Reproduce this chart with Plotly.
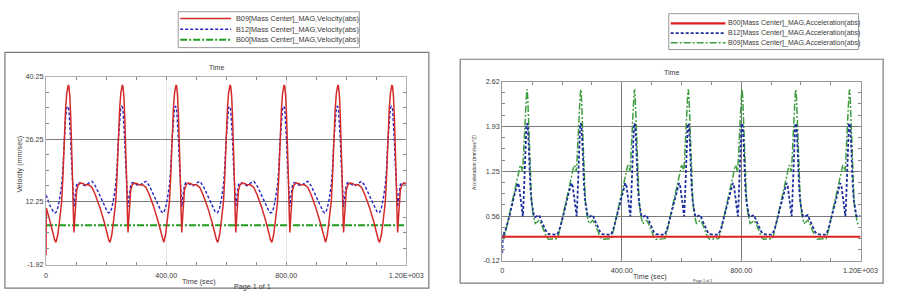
import plotly.graph_objects as go

W, H = 906, 294

# ---------------- Velocity panel data ----------------
vel_time = [
    0, 1, 14, 24, 29,
    33, 39, 45, 52, 56, 60, 65, 69, 72, 74, 76, 79, 82, 85, 88, 91, 93, 95, 98, 102, 107, 114, 122, 131, 142, 153, 164, 179, 194, 204, 209,
    213, 219, 225, 232, 236, 240, 245, 249, 252, 254, 256, 259, 262, 265, 268, 271, 273, 275, 278, 282, 287, 294, 302, 311, 322, 333, 344, 359, 374, 384, 389,
    392, 398, 404, 411, 415, 419, 424, 428, 431, 433, 435, 438, 441, 444, 447, 450, 452, 454, 457, 461, 466, 473, 481, 490, 501, 512, 523, 538, 553, 563, 568,
    572, 578, 584, 591, 595, 599, 604, 608, 611, 613, 615, 618, 621, 624, 627, 630, 632, 634, 637, 641, 646, 653, 661, 670, 681, 692, 703, 718, 733, 743, 748,
    752, 758, 764, 771, 775, 779, 784, 788, 791, 793, 795, 798, 801, 804, 807, 810, 812, 814, 817, 821, 826, 833, 841, 850, 861, 872, 883, 898, 913, 923, 928,
    931, 937, 943, 950, 954, 958, 963, 967, 970, 972, 974, 977, 980, 983, 986, 989, 991, 993, 996, 1000, 1005, 1012, 1020, 1029, 1040, 1051, 1062, 1077, 1092, 1102, 1107,
    1111, 1117, 1123, 1130, 1134, 1138, 1143, 1147, 1150, 1152, 1154, 1157, 1160, 1163, 1166, 1169, 1171, 1173, 1176, 1180, 1185, 1192, 1200,
]

vel_b09 = [
    0.2, 10.8, 7.6, 4.8, 3.6,
    3.1, 4.8, 8.0, 12.25, 17.5, 26.25, 33.0, 36.6, 38.1, 38.4, 38.1, 36.0, 31.5, 26.25, 18.0, 9.5, 5.3, 7.8, 11.8, 14.8, 16.0, 16.4, 16.3, 16.0, 16.0, 15.4, 13.8, 11.0, 7.6, 4.8, 3.6,
    3.1, 4.8, 8.0, 12.25, 17.5, 26.25, 33.0, 36.6, 38.1, 38.4, 38.1, 36.0, 31.5, 26.25, 18.0, 9.5, 5.3, 7.8, 11.8, 14.8, 16.0, 16.4, 16.3, 16.0, 16.0, 15.4, 13.8, 11.0, 7.6, 4.8, 3.6,
    3.1, 4.8, 8.0, 12.25, 17.5, 26.25, 33.0, 36.6, 38.1, 38.4, 38.1, 36.0, 31.5, 26.25, 18.0, 9.5, 5.3, 7.8, 11.8, 14.8, 16.0, 16.4, 16.3, 16.0, 16.0, 15.4, 13.8, 11.0, 7.6, 4.8, 3.6,
    3.1, 4.8, 8.0, 12.25, 17.5, 26.25, 33.0, 36.6, 38.1, 38.4, 38.1, 36.0, 31.5, 26.25, 18.0, 9.5, 5.3, 7.8, 11.8, 14.8, 16.0, 16.4, 16.3, 16.0, 16.0, 15.4, 13.8, 11.0, 7.6, 4.8, 3.6,
    3.1, 4.8, 8.0, 12.25, 17.5, 26.25, 33.0, 36.6, 38.1, 38.4, 38.1, 36.0, 31.5, 26.25, 18.0, 9.5, 5.3, 7.8, 11.8, 14.8, 16.0, 16.4, 16.3, 16.0, 16.0, 15.4, 13.8, 11.0, 7.6, 4.8, 3.6,
    3.1, 4.8, 8.0, 12.25, 17.5, 26.25, 33.0, 36.6, 38.1, 38.4, 38.1, 36.0, 31.5, 26.25, 18.0, 9.5, 5.3, 7.8, 11.8, 14.8, 16.0, 16.4, 16.3, 16.0, 16.0, 15.4, 13.8, 11.0, 7.6, 4.8, 3.6,
    3.1, 4.8, 8.0, 12.25, 17.5, 26.25, 33.0, 36.6, 38.1, 38.4, 38.1, 36.0, 31.5, 26.25, 18.0, 9.5, 5.3, 7.8, 11.8, 14.8, 16.0, 16.4, 16.3,
]

vel_b12 = [
    13.7, 13.5, 11.2, 10.0, 9.7,
    9.8, 10.8, 12.8, 16.0, 19.5, 25.5, 31.0, 33.3, 33.6, 33.5, 33.0, 30.5, 26.0, 21.0, 16.0, 12.0, 11.05, 12.5, 14.5, 16.0, 16.5, 16.4, 16.0, 15.8, 16.4, 16.8, 15.8, 13.5, 11.2, 10.0, 9.7,
    9.8, 10.8, 12.8, 16.0, 19.5, 25.5, 31.0, 33.3, 33.6, 33.5, 33.0, 30.5, 26.0, 21.0, 16.0, 12.0, 11.05, 12.5, 14.5, 16.0, 16.5, 16.4, 16.0, 15.8, 16.4, 16.8, 15.8, 13.5, 11.2, 10.0, 9.7,
    9.8, 10.8, 12.8, 16.0, 19.5, 25.5, 31.0, 33.3, 33.6, 33.5, 33.0, 30.5, 26.0, 21.0, 16.0, 12.0, 11.05, 12.5, 14.5, 16.0, 16.5, 16.4, 16.0, 15.8, 16.4, 16.8, 15.8, 13.5, 11.2, 10.0, 9.7,
    9.8, 10.8, 12.8, 16.0, 19.5, 25.5, 31.0, 33.3, 33.6, 33.5, 33.0, 30.5, 26.0, 21.0, 16.0, 12.0, 11.05, 12.5, 14.5, 16.0, 16.5, 16.4, 16.0, 15.8, 16.4, 16.8, 15.8, 13.5, 11.2, 10.0, 9.7,
    9.8, 10.8, 12.8, 16.0, 19.5, 25.5, 31.0, 33.3, 33.6, 33.5, 33.0, 30.5, 26.0, 21.0, 16.0, 12.0, 11.05, 12.5, 14.5, 16.0, 16.5, 16.4, 16.0, 15.8, 16.4, 16.8, 15.8, 13.5, 11.2, 10.0, 9.7,
    9.8, 10.8, 12.8, 16.0, 19.5, 25.5, 31.0, 33.3, 33.6, 33.5, 33.0, 30.5, 26.0, 21.0, 16.0, 12.0, 11.05, 12.5, 14.5, 16.0, 16.5, 16.4, 16.0, 15.8, 16.4, 16.8, 15.8, 13.5, 11.2, 10.0, 9.7,
    9.8, 10.8, 12.8, 16.0, 19.5, 25.5, 31.0, 33.3, 33.6, 33.5, 33.0, 30.5, 26.0, 21.0, 16.0, 12.0, 11.05, 12.5, 14.5, 16.0, 16.5, 16.4, 16.0,
]

vel_b00_time = [0, 1200]
vel_b00 = [6.92, 6.92]

# ---------------- Acceleration panel data ----------------
acc_time = [
    0, 2,
    5, 13, 23, 33, 43, 52, 56, 60, 64, 67, 69, 71, 75, 78, 81, 83, 85, 88, 91, 94, 98, 102, 106, 110, 116, 123, 130, 140, 148, 155, 168, 183,
    185, 193, 203, 213, 223, 232, 236, 240, 244, 247, 249, 251, 255, 258, 261, 263, 265, 268, 271, 274, 278, 282, 286, 290, 296, 303, 310, 320, 328, 335, 348, 363,
    365, 373, 383, 393, 403, 412, 416, 420, 424, 427, 429, 431, 435, 438, 441, 443, 445, 448, 451, 454, 458, 462, 466, 470, 476, 483, 490, 500, 508, 515, 528, 543,
    545, 553, 563, 573, 583, 592, 596, 600, 604, 607, 609, 611, 615, 618, 621, 623, 625, 628, 631, 634, 638, 642, 646, 650, 656, 663, 670, 680, 688, 695, 708, 723,
    725, 733, 743, 753, 763, 772, 776, 780, 784, 787, 789, 791, 795, 798, 801, 803, 805, 808, 811, 814, 818, 822, 826, 830, 836, 843, 850, 860, 868, 875, 888, 903,
    905, 913, 923, 933, 943, 952, 956, 960, 964, 967, 969, 971, 975, 978, 981, 983, 985, 988, 991, 994, 998, 1002, 1006, 1010, 1016, 1023, 1030, 1040, 1048, 1055, 1068, 1083,
    1085, 1093, 1103, 1113, 1123, 1132, 1136, 1140, 1144, 1147, 1149, 1151, 1155, 1158, 1161, 1163, 1165, 1168, 1171, 1174, 1178, 1182, 1186, 1190, 1196, 1200,
]

acc_b09 = [
    0.22, 0.22,
    0.22, 0.36, 0.55, 0.78, 0.98, 1.16, 1.27, 1.34, 1.32, 1.24, 1.30, 1.45, 1.85, 2.15, 2.42, 2.50, 2.40, 2.00, 1.55, 1.10, 0.80, 0.62, 0.50, 0.45, 0.47, 0.50, 0.45, 0.32, 0.24, 0.21, 0.21, 0.21,
    0.22, 0.36, 0.55, 0.78, 0.98, 1.16, 1.27, 1.34, 1.32, 1.24, 1.30, 1.45, 1.85, 2.15, 2.42, 2.50, 2.40, 2.00, 1.55, 1.10, 0.80, 0.62, 0.50, 0.45, 0.47, 0.50, 0.45, 0.32, 0.24, 0.21, 0.21, 0.21,
    0.22, 0.36, 0.55, 0.78, 0.98, 1.16, 1.27, 1.34, 1.32, 1.24, 1.30, 1.45, 1.85, 2.15, 2.42, 2.50, 2.40, 2.00, 1.55, 1.10, 0.80, 0.62, 0.50, 0.45, 0.47, 0.50, 0.45, 0.32, 0.24, 0.21, 0.21, 0.21,
    0.22, 0.36, 0.55, 0.78, 0.98, 1.16, 1.27, 1.34, 1.32, 1.24, 1.30, 1.45, 1.85, 2.15, 2.42, 2.50, 2.40, 2.00, 1.55, 1.10, 0.80, 0.62, 0.50, 0.45, 0.47, 0.50, 0.45, 0.32, 0.24, 0.21, 0.21, 0.21,
    0.22, 0.36, 0.55, 0.78, 0.98, 1.16, 1.27, 1.34, 1.32, 1.24, 1.30, 1.45, 1.85, 2.15, 2.42, 2.50, 2.40, 2.00, 1.55, 1.10, 0.80, 0.62, 0.50, 0.45, 0.47, 0.50, 0.45, 0.32, 0.24, 0.21, 0.21, 0.21,
    0.22, 0.36, 0.55, 0.78, 0.98, 1.16, 1.27, 1.34, 1.32, 1.24, 1.30, 1.45, 1.85, 2.15, 2.42, 2.50, 2.40, 2.00, 1.55, 1.10, 0.80, 0.62, 0.50, 0.45, 0.47, 0.50, 0.45, 0.32, 0.24, 0.21, 0.21, 0.21,
    0.22, 0.36, 0.55, 0.78, 0.98, 1.16, 1.27, 1.34, 1.32, 1.24, 1.30, 1.45, 1.85, 2.15, 2.42, 2.50, 2.40, 2.00, 1.55, 1.10, 0.80, 0.62, 0.50, 0.45, 0.47, 0.48,
]

acc_b12 = [
    0.0, 0.30,
    0.29, 0.38, 0.55, 0.75, 0.93, 1.07, 1.02, 0.88, 0.72, 0.60, 0.56, 0.75, 1.30, 1.80, 1.97, 1.98, 1.95, 1.70, 1.30, 1.00, 0.78, 0.65, 0.57, 0.55, 0.57, 0.58, 0.50, 0.40, 0.32, 0.29, 0.28, 0.28,
    0.29, 0.38, 0.55, 0.75, 0.93, 1.07, 1.02, 0.88, 0.72, 0.60, 0.56, 0.75, 1.30, 1.80, 1.97, 1.98, 1.95, 1.70, 1.30, 1.00, 0.78, 0.65, 0.57, 0.55, 0.57, 0.58, 0.50, 0.40, 0.32, 0.29, 0.28, 0.28,
    0.29, 0.38, 0.55, 0.75, 0.93, 1.07, 1.02, 0.88, 0.72, 0.60, 0.56, 0.75, 1.30, 1.80, 1.97, 1.98, 1.95, 1.70, 1.30, 1.00, 0.78, 0.65, 0.57, 0.55, 0.57, 0.58, 0.50, 0.40, 0.32, 0.29, 0.28, 0.28,
    0.29, 0.38, 0.55, 0.75, 0.93, 1.07, 1.02, 0.88, 0.72, 0.60, 0.56, 0.75, 1.30, 1.80, 1.97, 1.98, 1.95, 1.70, 1.30, 1.00, 0.78, 0.65, 0.57, 0.55, 0.57, 0.58, 0.50, 0.40, 0.32, 0.29, 0.28, 0.28,
    0.29, 0.38, 0.55, 0.75, 0.93, 1.07, 1.02, 0.88, 0.72, 0.60, 0.56, 0.75, 1.30, 1.80, 1.97, 1.98, 1.95, 1.70, 1.30, 1.00, 0.78, 0.65, 0.57, 0.55, 0.57, 0.58, 0.50, 0.40, 0.32, 0.29, 0.28, 0.28,
    0.29, 0.38, 0.55, 0.75, 0.93, 1.07, 1.02, 0.88, 0.72, 0.60, 0.56, 0.75, 1.30, 1.80, 1.97, 1.98, 1.95, 1.70, 1.30, 1.00, 0.78, 0.65, 0.57, 0.55, 0.57, 0.58, 0.50, 0.40, 0.32, 0.29, 0.28, 0.28,
    0.29, 0.38, 0.55, 0.75, 0.93, 1.07, 1.02, 0.88, 0.72, 0.60, 0.56, 0.75, 1.30, 1.80, 1.97, 1.98, 1.95, 1.70, 1.30, 1.00, 0.78, 0.65, 0.57, 0.55, 0.57, 0.57,
]

acc_b00_time = [0, 1200]
acc_b00 = [0.25, 0.25]

# ---------------- Axis ticks / labels ----------------
x_tickvals = [0, 400, 800, 1200]
x_ticktext = ["0", "400.00", "800.00", "1.20E+003"]
vel_tickvals = [-1.92, 12.25, 26.25, 40.25]
vel_ticktext = ["-1.92", "12.25", "26.25", "40.25"]
acc_tickvals = [-0.12, 0.565, 1.25, 1.935, 2.62]
acc_ticktext = ["-0.12", "0.56", "1.25", "1.93", "2.62"]

vel_names = ["B09[Mass Center]_MAG,Velocity(abs)",
             "B12[Mass Center]_MAG,Velocity(abs)",
             "B00[Mass Center]_MAG,Velocity(abs)"]
acc_names = ["B00[Mass Center]_MAG,Acceleration(abs)",
             "B12[Mass Center]_MAG,Acceleration(abs)",
             "B09[Mass Center]_MAG,Acceleration(abs)"]

RED = "#d42a2a"
BLUE = "#2424c8"
GREEN = "#1f9a1f"
NAVY = "#1c2e9c"
GREEN2 = "#3f9e3f"
FONT = "Liberation Sans, Arial, sans-serif"
TXT = "#3a3a3a"


def X(px):
    return px / W


def Y(py):
    return 1 - py / H


fig = go.Figure()

# velocity traces
fig.add_trace(go.Scatter(x=vel_b00_time, y=vel_b00, mode="lines", name=vel_names[2],
                         line=dict(color=GREEN, width=2, dash="7px,2px,2px,2px"),
                         xaxis="x", yaxis="y"))
fig.add_trace(go.Scatter(x=vel_time, y=vel_b12, mode="lines", name=vel_names[1],
                         line=dict(color=BLUE, width=1.4, dash="3px,2px"),
                         xaxis="x", yaxis="y"))
fig.add_trace(go.Scatter(x=vel_time, y=vel_b09, mode="lines", name=vel_names[0],
                         line=dict(color=RED, width=1.5),
                         xaxis="x", yaxis="y"))

# acceleration traces
fig.add_trace(go.Scatter(x=acc_time, y=acc_b09, mode="lines", name=acc_names[2],
                         line=dict(color=GREEN2, width=1.5, dash="7px,2px,2px,2px"),
                         xaxis="x2", yaxis="y2"))
fig.add_trace(go.Scatter(x=acc_time, y=acc_b12, mode="lines", name=acc_names[1],
                         line=dict(color=NAVY, width=1.8, dash="3px,2px"),
                         xaxis="x2", yaxis="y2"))
fig.add_trace(go.Scatter(x=acc_b00_time, y=acc_b00, mode="lines", name=acc_names[0],
                         line=dict(color="#e02020", width=2),
                         xaxis="x2", yaxis="y2"))

tickfont = dict(family=FONT, size=7.2, color=TXT)


def xax(domain, anchor, gridcolor, linecolor, standoff):
    return dict(domain=domain, anchor=anchor, range=[0, 1200],
                tickvals=x_tickvals, ticktext=x_ticktext,
                showgrid=True, gridcolor=gridcolor, gridwidth=1,
                ticks="inside", ticklen=3, tickcolor="#888888",
                showline=True, linecolor=linecolor, linewidth=1, mirror="allticks",
                minor=dict(dtick=100, tick0=0, ticks="inside", ticklen=3,
                           tickcolor="#888888", showgrid=False),
                ticklabelstandoff=standoff,
                zeroline=False, tickfont=tickfont, fixedrange=True)


def yax(domain, anchor, rng, tv, tt, mdtick, mtick0, linecolor):
    return dict(domain=domain, anchor=anchor, range=rng,
                tickvals=tv, ticktext=tt,
                showgrid=True, gridcolor="#7a7a7a", gridwidth=1,
                ticks="inside", ticklen=3, tickcolor="#888888",
                showline=True, linecolor=linecolor, linewidth=1, mirror="allticks",
                minor=dict(dtick=mdtick, tick0=mtick0, ticks="inside", ticklen=3,
                           tickcolor="#888888", showgrid=False),
                zeroline=False, tickfont=tickfont, fixedrange=True)


shapes = []
annotations = []

# outer frames
shapes.append(dict(type="rect", xref="paper", yref="paper",
                   x0=X(3), x1=X(436), y0=Y(293), y1=Y(50),
                   line=dict(color="#7a7a7a", width=1.2)))
shapes.append(dict(type="rect", xref="paper", yref="paper",
                   x0=X(468), x1=X(900), y0=Y(288), y1=Y(57),
                   line=dict(color="#7a7a7a", width=1.2)))

# legend boxes
shapes.append(dict(type="rect", xref="paper", yref="paper",
                   x0=X(180), x1=X(365), y0=Y(45), y1=Y(8),
                   line=dict(color="#9a9a9a", width=1)))
shapes.append(dict(type="rect", xref="paper", yref="paper",
                   x0=X(681), x1=X(875), y0=Y(47), y1=Y(10),
                   line=dict(color="#9a9a9a", width=1)))

vel_styles = [dict(color=RED, width=1.5),
              dict(color=BLUE, width=1.4, dash="3px,2px"),
              dict(color=GREEN, width=2, dash="7px,2px,2px,2px")]
for i, (nm, st) in enumerate(zip(vel_names, vel_styles)):
    yy = 15 + i * 11
    shapes.append(dict(type="line", xref="paper", yref="paper",
                       x0=X(182), x1=X(234), y0=Y(yy), y1=Y(yy), line=st))
    annotations.append(dict(text=nm, x=X(237), y=Y(yy), xref="paper", yref="paper",
                            xanchor="left", yanchor="middle", showarrow=False,
                            font=dict(family=FONT, size=7.3, color=TXT)))

acc_styles = [dict(color="#e02020", width=2.2),
              dict(color=NAVY, width=1.8, dash="3px,2px"),
              dict(color=GREEN2, width=1.6, dash="7px,2px,2px,2px")]
for i, (nm, st) in enumerate(zip(acc_names, acc_styles)):
    yy = 20 + i * 10
    shapes.append(dict(type="line", xref="paper", yref="paper",
                       x0=X(683), x1=X(739), y0=Y(yy), y1=Y(yy), line=st))
    annotations.append(dict(text=nm, x=X(740), y=Y(yy), xref="paper", yref="paper",
                            xanchor="left", yanchor="middle", showarrow=False,
                            font=dict(family=FONT, size=7.0, color=TXT)))


def txt(s, x, y, size, color=TXT, angle=0):
    annotations.append(dict(text=s, x=X(x), y=Y(y), xref="paper", yref="paper",
                            xanchor="center", yanchor="middle", showarrow=False,
                            textangle=angle,
                            font=dict(family=FONT, size=size, color=color)))


txt("Time", 219, 65, 7.0)
txt("Time", 684, 71, 7.0)
txt("Time (sec)", 201, 286, 7.2)
txt("Time (sec)", 662, 281, 7.2)
txt("Page 1 of 1", 256, 291, 7.2)
txt("Page 1 of 1", 716, 286, 3.8)
txt("Velocity (mm/sec)", 18, 165, 7.2, angle=-90)
txt("Acceleration (mm/sec^2)", 482, 163, 5.0, angle=-90)

fig.update_layout(
    width=W, height=H,
    margin=dict(l=0, r=0, t=0, b=0),
    paper_bgcolor="white", plot_bgcolor="white",
    showlegend=False,
    xaxis=xax([X(45), X(413)], "y", "#e4e4e4", "#b0b0b0", 4),
    yaxis=yax([Y(269), Y(75)], "x", [-1.92, 40.25], vel_tickvals, vel_ticktext, 3.5, 12.25, "#b0b0b0"),
    xaxis2=xax([X(511), X(877)], "y2", "#7a7a7a", "#9a9a9a", 2),
    yaxis2=yax([Y(265), Y(80)], "x2", [-0.12, 2.62], acc_tickvals, acc_ticktext, 0.17125, -0.12, "#9a9a9a"),
    shapes=shapes,
    annotations=annotations,
)

fig.write_html("out.html")
